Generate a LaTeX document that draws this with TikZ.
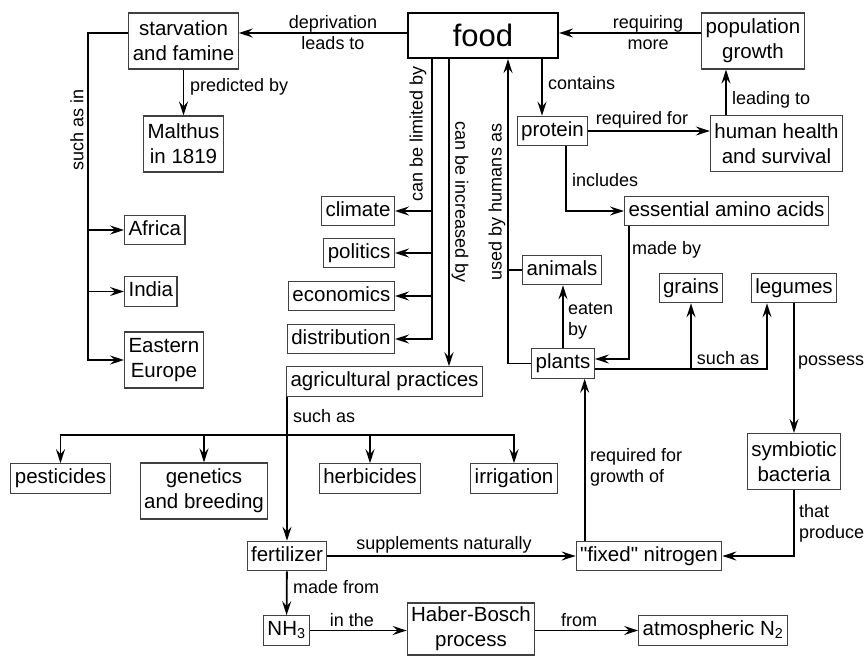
\documentclass[tikz,border=0pt]{standalone}
\usepackage{fontspec}
\setmainfont{Liberation Sans}
\newfontfamily\plainquotes{Liberation Sans}
\usetikzlibrary{arrows.meta}

\begin{document}
\begin{tikzpicture}[
  x=1pt, y=-1pt,
  basebox/.style={draw=black!75, line width=1.1pt, inner xsep=4pt,
    align=center, font=\fontsize{20.5}{25}\selectfont},
  conceptbox/.style={basebox, text height=15pt, text depth=4.5pt, inner ysep=5pt},
  tallbox/.style={basebox, minimum height=56pt},
  linklabel/.style={inner sep=0pt, align=center, font=\fontsize{18}{21}\selectfont},
  linkarrow/.style={-{Stealth[length=14pt,width=9pt,inset=5pt]}, line width=1.8pt},
  linkline/.style={line width=1.8pt}
]
\useasboundingbox (0,0) rectangle (866,655);
% concepts
\node[basebox, draw=black, line width=2.2pt, minimum width=150pt, minimum height=45pt,
  font=\fontsize{31}{36}\selectfont] (food) at (483,35.5) {food};
\node[tallbox] (starvation) at (183.5,41) {starvation\\and famine};
\node[tallbox] (malthus) at (183.5,144) {Malthus\\in 1819};
\node[tallbox] (population) at (753,41) {population\\growth};
\node[tallbox] (health) at (776.5,143.5) {human health\\and survival};
\node[conceptbox] (protein) at (552.5,131) {protein};
\node[conceptbox] (aminoacids) at (726.5,211) {essential amino acids};
\node[conceptbox, anchor=west] (africa) at (124,230) {Africa};
\node[conceptbox, anchor=west] (india) at (124,291.5) {India};
\node[tallbox, anchor=west] (europe) at (124,360) {Eastern\\Europe};
\node[conceptbox, anchor=east] (climate) at (395,211) {climate};
\node[conceptbox, anchor=east] (politics) at (395,253) {politics};
\node[conceptbox, anchor=east] (economics) at (395,296) {economics};
\node[conceptbox, anchor=east] (distribution) at (395,339) {distribution};
\node[conceptbox, anchor=west] (practices) at (286,381.5) {agricultural practices};
\node[conceptbox] (animals) at (562,270) {animals};
\node[conceptbox] (plants) at (563,363.5) {plants};
\node[conceptbox] (grains) at (691,288) {grains};
\node[conceptbox] (legumes) at (794,288) {legumes};
\node[tallbox] (bacteria) at (794,461.5) {symbiotic\\bacteria};
\node[conceptbox] (nitrogen) at (649,556) {\plainquotes"fixed" nitrogen};
\node[conceptbox] (pesticides) at (60.5,478.5) {pesticides};
\node[tallbox] (genetics) at (204,491) {genetics\\and breeding};
\node[conceptbox] (herbicides) at (370,478.5) {herbicides};
\node[conceptbox] (irrigation) at (514,478.5) {irrigation};
\node[conceptbox] (fertilizer) at (287,556) {fertilizer};
\node[conceptbox] (ammonia) at (286.5,630.5) {NH\textsubscript{3}};
\node[tallbox, minimum height=52pt] (haber) at (471,629) {Haber-Bosch\\process};
\node[conceptbox] (atmosphere) at (713,630.5) {atmospheric N\textsubscript{2}};

% attachment points
\coordinate (limitedX) at ([xshift=-51pt]food.south);
\coordinate (increasedX) at ([xshift=-34pt]food.south);
\coordinate (usedX) at ([xshift=25pt]food.south);
\coordinate (containsX) at ([xshift=59pt]food.south);
\coordinate (foodL) at ([yshift=2.5pt]food.west);
\coordinate (popL) at ([yshift=8pt]population.west);
\coordinate (starvL) at ([yshift=8pt]starvation.west);
\coordinate (trunk) at ([xshift=-40pt]starvL);
\coordinate (healthT) at ([xshift=-50.5pt]health.north);
\coordinate (proteinB) at ([xshift=13.5pt]protein.south);
\coordinate (aminoB) at ([xshift=5pt]aminoacids.south west);
\coordinate (plantsRa) at ([yshift=4.5pt]plants.east);
\coordinate (plantsRb) at ([yshift=-5.5pt]plants.east);
\coordinate (legumesB) at ([xshift=-27pt]legumes.south);
\coordinate (nitrogenT) at ([xshift=9pt]nitrogen.north west);
\coordinate (branch) at (287,435);

% connectors
\draw[linkarrow] (foodL) -- (foodL -| starvation.east);
\draw[linkarrow] (popL) -- (popL -| food.east);
\draw[linkarrow] (starvation) -- (malthus);
\draw[linkarrow] (starvL) -- (trunk) |- (europe.west);
\foreach \n in {africa,india}
  \draw[linkarrow] (\n.west -| trunk) -- (\n.west);
\draw[linkarrow] (containsX) -- (containsX |- protein.north);
\draw[linkarrow] (protein.east) -- (protein.east -| health.west);
\draw[linkarrow] (healthT) -- (healthT |- population.south);
\draw[linkarrow] (proteinB) |- (aminoacids.west);
\draw[linkarrow] (aminoB) |- (plantsRa);
\draw[linkarrow] (plantsRb) -| (legumesB);
\draw[linkarrow] (plantsRb -| grains.south) -- (grains.south);
\draw[linkarrow] (legumes) -- (bacteria);
\draw[linkarrow] (bacteria.south) |- (nitrogen.east);
\draw[linkarrow] (nitrogenT) -- (nitrogenT |- plants.south);
\draw[linkarrow] (plants.north) -- (plants.north |- animals.south);
\draw[linkarrow] (plants.west) -| (usedX);
\draw[linkline] (animals.west) -- (animals.west -| usedX);
\draw[linkarrow] (limitedX) |- (distribution.east);
\foreach \n in {climate,politics,economics}
  \draw[linkarrow] (\n.east -| limitedX) -- (\n.east);
\draw[linkarrow] (increasedX) -- (increasedX |- practices.north);
\draw[linkarrow] (practices.south west -| fertilizer.north) -- (fertilizer.north);
\draw[linkarrow] (branch) -| (pesticides.north);
\draw[linkarrow] (branch) -| (irrigation.north);
\foreach \n in {genetics,herbicides}
  \draw[linkarrow] (branch -| \n.north) -- (\n.north);
\draw[linkarrow] (fertilizer) -- (nitrogen);
\draw[linkarrow] (fertilizer) -- (ammonia);
\draw[linkarrow] (ammonia.east) -- (ammonia.east -| haber.west);
\draw[linkarrow] (haber.east |- atmosphere.west) -- (atmosphere.west);

% link labels
\node[linklabel] (l-deprive) at (333,33) {deprivation\\leads to};
\node[linklabel, rotate=90] (l-suchasin) at (77,130) {such as in};
\node[linklabel, anchor=west] (l-predicted) at (190,87) {predicted by};
\node[linklabel] (l-requiring) at (648,33) {requiring\\more};
\node[linklabel] (l-required) at (642,120) {required for};
\node[linklabel, anchor=west] (l-leading) at (732,100) {leading to};
\node[linklabel, anchor=west] (l-contains) at (548,83) {contains};
\node[linklabel, anchor=west] (l-includes) at (572,180) {includes};
\node[linklabel, rotate=90] (l-limited) at (418,134) {can be limited by};
\node[linklabel, rotate=-90] (l-increased) at (460,202) {can be increased by};
\node[linklabel, rotate=90] (l-used) at (497,202) {used by humans as};
\node[linklabel, anchor=west] (l-madeby) at (632,250) {made by};
\node[linklabel, anchor=west, align=left] (l-eaten) at (568,321) {eaten\\by};
\node[linklabel] (l-suchas) at (728,358) {such as};
\node[linklabel, anchor=west] (l-possess) at (798,363) {possess};
\node[linklabel, anchor=west, align=left] (l-produce) at (799,523) {that\\produce};
\node[linklabel, anchor=west, align=left] (l-growth) at (590,467) {required for\\growth of};
\node[linklabel, anchor=west] (l-practices) at (293,416) {such as};
\node[linklabel] (l-supplements) at (444,545) {supplements naturally};
\node[linklabel, anchor=west] (l-madefrom) at (293,587) {made from};
\node[linklabel] (l-inthe) at (352,620) {in the};
\node[linklabel] (l-from) at (579,620) {from};
\end{tikzpicture}
\end{document}
